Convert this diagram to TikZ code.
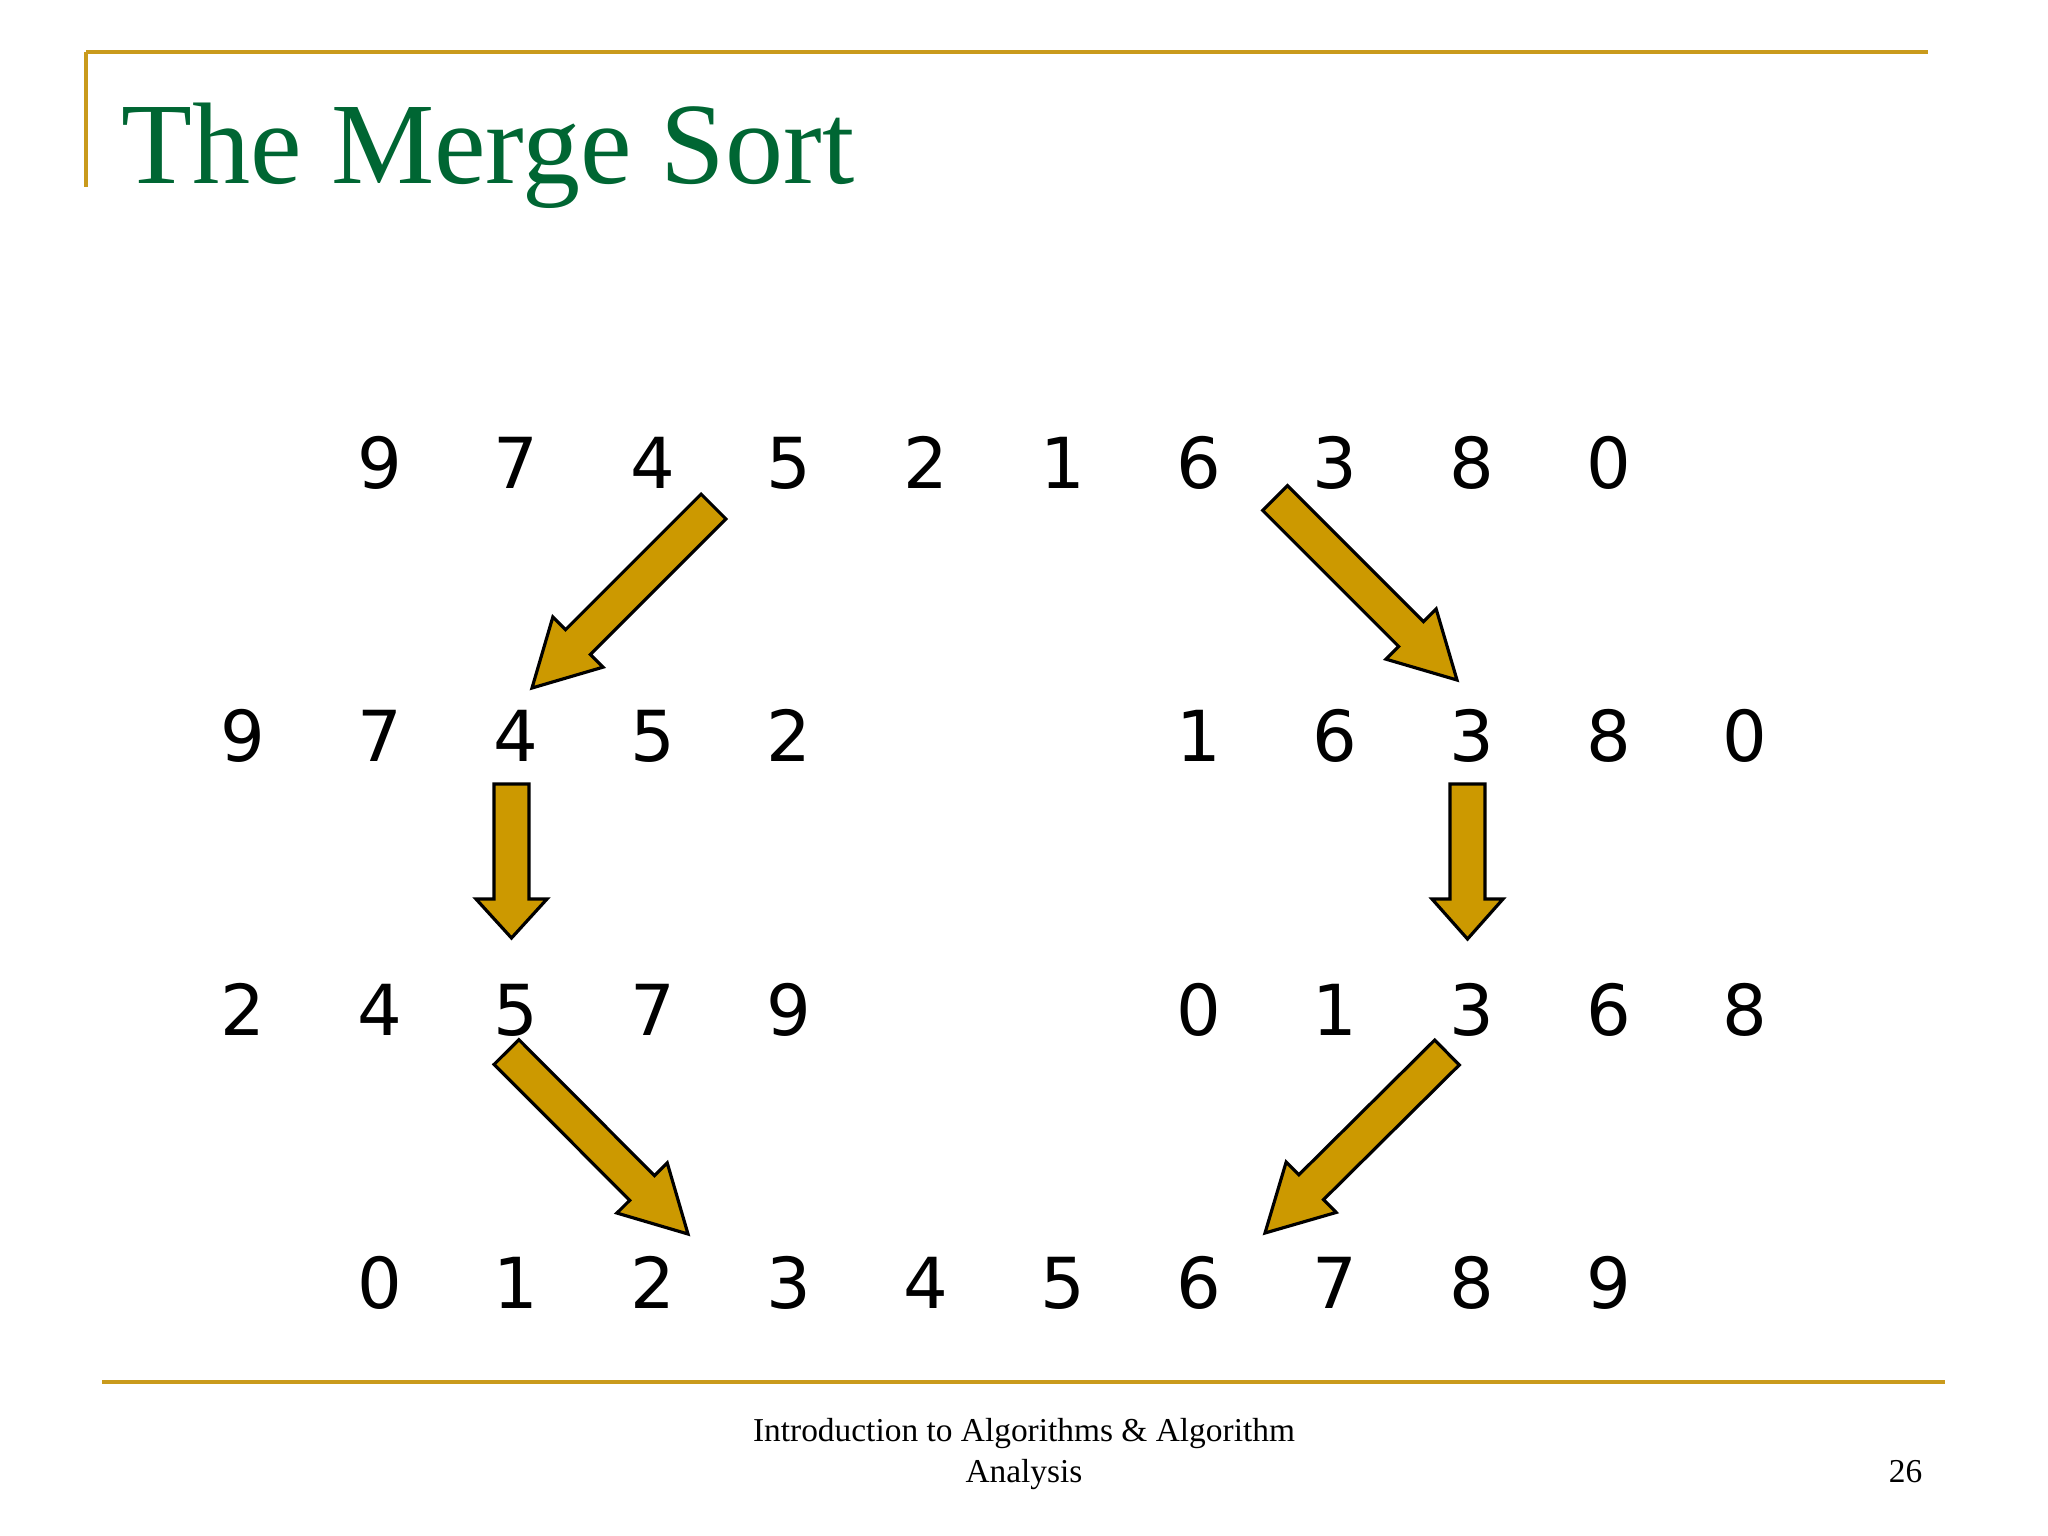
\documentclass[tikz,border=0pt]{standalone}
\usepackage{fontspec}
\setmainfont{Liberation Serif}
\newfontfamily\digitfont{DejaVu Sans}
\usetikzlibrary{calc}
\definecolor{gold}{HTML}{C99A1C}
\definecolor{arrowgold}{HTML}{CC9900}
\definecolor{titlegreen}{HTML}{006633}
\tikzset{
  rule/.style={draw=gold, line width=1.15pt},
  digit/.style={font=\digitfont\fontsize{20}{24}\selectfont, anchor=base, inner sep=0pt},
  blk/.style={draw=black, fill=arrowgold, line width=0.9pt, line join=miter},
  foot/.style={font=\fontsize{9.5}{11}\selectfont, anchor=base, inner sep=0pt}
}
% block arrow: #1 tail, #2 tip, #3 head length
\newcommand\blkarrow[3]{%
  \coordinate (hb) at ($(#2)!#3!(#1)$);
  \draw[blk] ($(#1)!0.175cm!90:(#2)$) -- ($(hb)!0.175cm!90:(#2)$) -- ($(hb)!0.355cm!90:(#2)$)
    -- (#2) -- ($(hb)!0.355cm!-90:(#2)$) -- ($(hb)!0.175cm!-90:(#2)$) -- ($(#1)!0.175cm!-90:(#2)$) -- cycle;
}
\begin{document}
\begin{tikzpicture}[x=0.01cm, y=-0.01cm]
\useasboundingbox[fill=white] (0,0) rectangle (2048,1536);
% frame rules
\draw[rule] (86,52) -- (1928,52);
\draw[rule] (86,52) -- (86,187);
\draw[rule] (102,1382) -- (1945,1382);
% title
\node[anchor=base west, inner sep=0pt, text=titlegreen, font=\fontsize{33}{36}\selectfont] (title) at (121,183) {The Merge Sort};
% footer
\node[foot] (foot1) at (1024,1441) {Introduction to Algorithms \& Algorithm};
\node[foot] (foot2) at (1024,1482) {Analysis};
\node[foot, anchor=base east] (page) at (1923,1482) {26};
% digits
\def\colx#1{\ifcase#1\or243\or380\or516\or653\or789\or926\or1063\or1199\or1335\or1472\or1609\or1745\fi}
\foreach \c/\d in {2/9,3/7,4/4,5/5,6/2,7/1,8/6,9/3,10/8,11/0}
  \node[digit] (a\c) at (\colx{\c},488) {\d};
\foreach \c/\d in {1/9,2/7,3/4,4/5,5/2,8/1,9/6,10/3,11/8,12/0}
  \node[digit] (b\c) at (\colx{\c},761) {\d};
\foreach \c/\d in {1/2,2/4,3/5,4/7,5/9,8/0,9/1,10/3,11/6,12/8}
  \node[digit] (c\c) at (\colx{\c},1035) {\d};
\foreach \c/\d in {2/0,3/1,4/2,5/3,6/4,7/5,8/6,9/7,10/8,11/9}
  \node[digit] (d\c) at (\colx{\c},1308) {\d};
% arrow end points
\coordinate (t1) at (713.5,506.5); \coordinate (p1) at (532,688);
\coordinate (t2) at (1275,498);    \coordinate (p2) at (1457,680);
\coordinate (t3) at (511.5,784);   \coordinate (p3) at (511.5,938);
\coordinate (t4) at (1467.5,784);  \coordinate (p4) at (1467.5,939);
\coordinate (t5) at (506.5,1052);  \coordinate (p5) at (688,1234);
\coordinate (t6) at (1447,1052.5); \coordinate (p6) at (1265,1233);
\blkarrow{t1}{p1}{0.65cm}
\blkarrow{t2}{p2}{0.65cm}
\blkarrow{t3}{p3}{0.39cm}
\blkarrow{t4}{p4}{0.40cm}
\blkarrow{t5}{p5}{0.65cm}
\blkarrow{t6}{p6}{0.65cm}
\end{tikzpicture}
\end{document}
